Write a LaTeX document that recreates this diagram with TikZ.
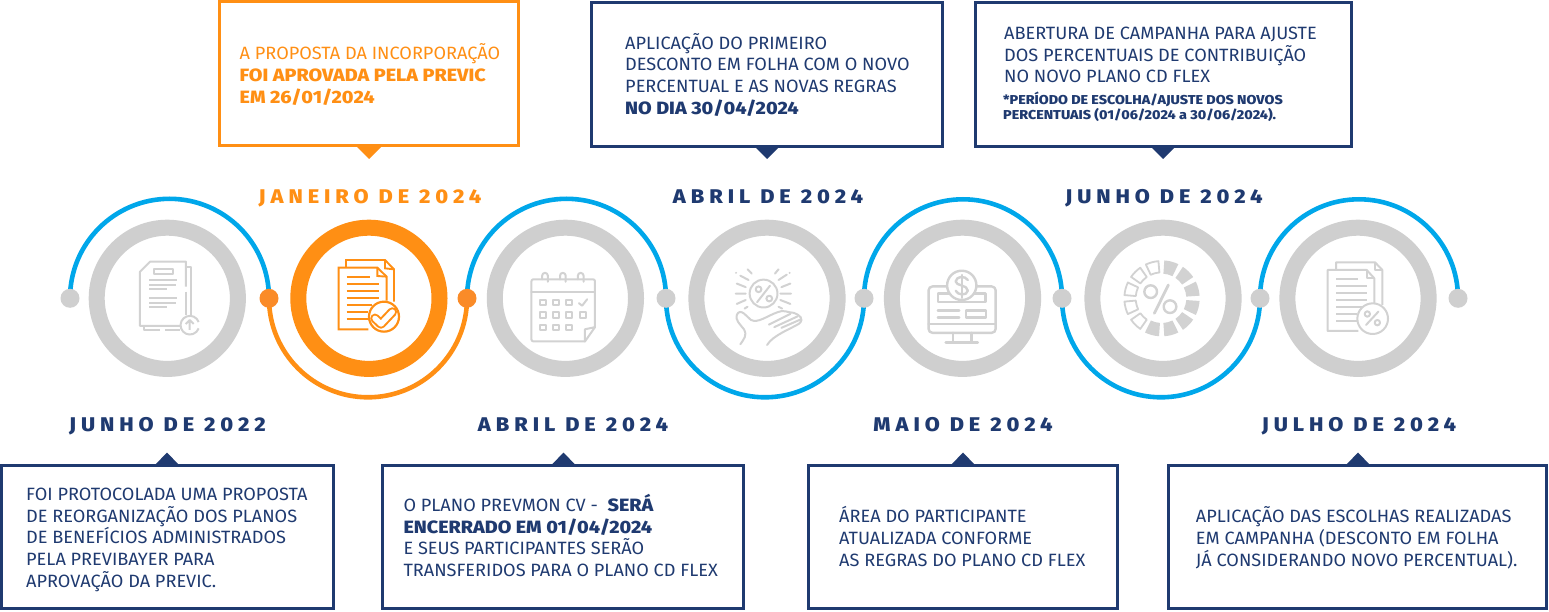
\documentclass[tikz,border=0pt]{standalone}
\usepackage{fontspec}
\setmainfont{Fira Sans}[UprightFeatures={FakeStretch=1.02},BoldFont={Fira Sans ExtraBold},BoldFeatures={FakeStretch=1.11}]
\definecolor{navy}{HTML}{1F3A70}
\definecolor{orng}{HTML}{FF8F14}
\definecolor{sky}{HTML}{00A7EA}
\definecolor{ringg}{HTML}{CFCFCF}
\definecolor{icong}{HTML}{D2D2D2}
\definecolor{dotor}{HTML}{FA8B28}
\newfontfamily\datefont{Fira Sans ExtraBold}[LetterSpace=25,FakeStretch=1.1]
\tikzset{
  navybox/.style={draw=navy,line width=3pt,fill=white,inner sep=0pt},
  orangebox/.style={draw=orng,line width=3pt,fill=white,inner sep=0pt},
  ring/.style={circle,draw=ringg,line width=16pt,minimum size=141.2pt,inner sep=0pt},
  dotg/.style={circle,fill=ringg,minimum size=19pt,inner sep=0pt},
  doto/.style={circle,fill=dotor,minimum size=19pt,inner sep=0pt},
  skyarc/.style={draw=sky,line width=4.6pt},
  orarc/.style={draw=orng,line width=4.6pt},
  body/.style={anchor=base west,inner sep=0pt,align=left,text=navy,font=\fontsize{17.8}{21.75}\selectfont},
  datel/.style={anchor=base,inner sep=0pt,text=navy,font=\datefont\fontsize{19.8}{22}\selectfont},
  ic/.style={draw=icong,line width=2pt,line cap=round,line join=round},
  ico/.style={draw=orng,line width=1.9pt,line join=miter}
}
\begin{document}
\begin{tikzpicture}[x=1pt,y=-1pt]
\useasboundingbox (0,0) rectangle (1549,612);
\fill[white] (0,0) rectangle (1549,612);
\coordinate (p0) at (70,298.3);
\coordinate (p1) at (269,298.3);
\coordinate (p2) at (467,298.3);
\coordinate (p3) at (666,298.3);
\coordinate (p4) at (864,298.3);
\coordinate (p5) at (1062,298.3);
\coordinate (p6) at (1260,298.3);
\coordinate (p7) at (1458,298.3);
\draw[skyarc] (p0) arc[start angle=180,end angle=360,radius=99.5];
\draw[orarc] (p1) arc[start angle=180,end angle=0,radius=99];
\draw[skyarc] (p2) arc[start angle=180,end angle=360,radius=99.5];
\draw[skyarc] (p3) arc[start angle=180,end angle=0,radius=99];
\draw[skyarc] (p4) arc[start angle=180,end angle=360,radius=99];
\draw[skyarc] (p5) arc[start angle=180,end angle=0,radius=99];
\draw[skyarc] (p6) arc[start angle=180,end angle=360,radius=99];
\node[dotg] (d0) at (p0) {};
\node[doto] (d1) at (p1) {};
\node[doto] (d2) at (p2) {};
\node[dotg] (d3) at (p3) {};
\node[dotg] (d4) at (p4) {};
\node[dotg] (d5) at (p5) {};
\node[dotg] (d6) at (p6) {};
\node[dotg] (d7) at (p7) {};
\node[ring] (r1) at (167.3,298.3) {};
\node[ring,draw=orng] (r2) at (368.9,298.3) {};
\node[ring] (r3) at (565.4,298.3) {};
\node[ring] (r4) at (767,298.3) {};
\node[ring] (r5) at (962.5,298.3) {};
\node[ring] (r6) at (1163,298.3) {};
\node[ring] (r7) at (1358,298.3) {};
% icon 1
\begin{scope}[shift={(0,180)},scale=1/3,ic,line cap=butt]
\draw (540,438)--(420,438)--(420,275)--(450,245)--(558,245)--(558,320);
\draw (558,335)--(558,405);
\draw (560,260)--(572,260)--(572,408);
\draw (433,438)--(433,450)--(480,450) (495,450)--(540,450);
\draw (461,266) rectangle (518,283);
\draw (448,300)--(530,300) (448,314)--(528,314) (448,328)--(502,328);
\draw (448,355)--(530,355) (448,368)--(528,368) (448,382)--(502,382);
\draw (596,426) arc[start angle=-20,end angle=-340,radius=28];
\draw (569,450)--(569,420) (557,432)--(569,420)--(581,432);
\end{scope}
% icon 2
\begin{scope}[shift={(0,180)},scale=1/3,ico]
\draw (1038,263)--(1038,240)--(1155,240)--(1182,268)--(1182,365);
\draw (1155,240)--(1155,265)--(1182,268);
\draw (1105,448)--(1016,448)--(1016,263)--(1132,263)--(1160,290)--(1160,362);
\draw (1132,263)--(1132,288)--(1160,290);
\draw (1040,292)--(1110,292) (1040,313)--(1137,313) (1040,334)--(1137,334) (1040,355)--(1137,355) (1040,376)--(1115,376) (1040,397)--(1105,397) (1040,418)--(1105,418);
\draw[fill=white,line width=2.2pt] (1152,410) circle[radius=45];
\draw[line width=9.5pt,line join=round,line cap=round] (1125,415)--(1143,432)--(1177,396);
\draw[white,line width=5.4pt,line join=round,line cap=round] (1125,415)--(1143,432)--(1177,396);
\end{scope}
% icon 3
\begin{scope}[shift={(460,180)},scale=1/2.8,ic]
\draw[rounded corners=2pt] (350,452)--(200,452)--(200,278)--(378,278)--(378,412);
\draw (378,412)--(350,452)--(350,418)--(378,412);
\draw (200,313)--(378,313);
\foreach \x in {238,288,338}{
 \draw (\x-8,278)--(\x-8,268) arc[start angle=180,end angle=360,radius=8]--(\x+8,285);
}
\foreach \x in {233,269,306}{\draw (\x-8,335) rectangle (\x+8,350);\draw (\x-8,371) rectangle (\x+8,386);\draw (\x-8,406) rectangle (\x+8,421);}
\draw (336,371) rectangle (352,386);
\draw (333,345)--(342,352)--(356,334);
\end{scope}
% icon 4
\begin{scope}[shift={(460,180)},scale=1/2.8,ic]
\draw (850,318) circle[radius=39];
\draw (832,342)--(868,296);
\draw (836,306) circle[radius=8] (866,332) circle[radius=8];
\draw (772,318)--(800,318) (775,290)--(800,300) (785,268)--(808,280) (805,250)--(817,262) (775,347)--(800,336) (797,360)--(805,355);
\draw (897,318)--(927,318) (900,300)--(925,290) (892,280)--(915,265) (882,262)--(892,250) (897,336)--(925,347) (892,355)--(902,360);
\fill[icong] (773,260) circle[radius=3] (923,260) circle[radius=3];
\draw (785,460) .. controls (795,445) and (805,435) .. (795,418) .. controls (785,405) and (770,392) .. (775,378) .. controls (785,355) and (805,385) .. (815,392) .. controls (835,402) and (860,380) .. (890,370) .. controls (905,362) and (920,372) .. (935,372) .. controls (950,378) and (965,388) .. (950,402) .. controls (930,415) and (875,435) .. (860,462);
\draw (865,405)--(925,375) (880,412)--(945,382) (900,414)--(955,390);
\end{scope}
% icon 5
\begin{scope}[shift={(460,180)},scale=1/2.8,ic,line width=2.4pt]
\draw[rounded corners=4pt] (1312,298) rectangle (1500,428);
\draw (1312,403)--(1500,403);
\draw (1338,318) rectangle (1472,342);
\draw (1338,365)--(1398,365) (1338,385)--(1398,385);
\draw (1417,365) rectangle (1473,385);
\draw[fill=white] (1405,295) circle[radius=41];
\draw (1422,280) .. controls (1415,268) and (1390,268) .. (1388,284) .. controls (1388,297) and (1422,293) .. (1422,310) .. controls (1420,325) and (1393,323) .. (1388,310);
\draw (1405,266)--(1405,330);
\draw (1380,428)--(1380,453) (1432,428)--(1432,453);
\draw (1360,455)--(1450,455);
\end{scope}
% icon 6
\begin{scope}[shift={(1040,200)},scale=1/3]
\begin{scope}[shift={(365,295)}]
\foreach \a in {-75,-45,-15,15,45,75,105}{
 \fill[icong] ({\a-11}:114) arc[start angle={\a-11},end angle={\a+11},radius=114] -- ({\a+11}:74) arc[start angle={\a+11},end angle={\a-11},radius=74] -- cycle;
}
\foreach \a in {135,165,195,225,255}{
 \draw[icong,line width=1.8pt,line join=round] ({\a-10}:112) arc[start angle={\a-10},end angle={\a+10},radius=112] -- ({\a+10}:78) arc[start angle={\a+10},end angle={\a-10},radius=78] -- cycle;
}
\end{scope}
\draw[ic,line width=2.4pt] (332,275) circle[radius=19] (390,320) circle[radius=19];
\draw[ic,line width=2.8pt] (343,340)--(385,255);
\end{scope}
% icon 7
\begin{scope}[shift={(1040,200)},scale=1/3,ic,line cap=butt]
\draw (888,210)--(888,187)--(1005,187)--(1027,210)--(1027,315);
\draw (1005,187)--(1005,210)--(1027,210);
\draw (955,393)--(863,393)--(863,210)--(980,210)--(1003,235)--(1003,320);
\draw (980,210)--(980,235)--(1003,235);
\draw (888,238)--(955,238) (888,258)--(980,258) (888,280)--(980,280) (888,300)--(980,300) (888,320)--(975,320) (888,342)--(950,342) (888,362)--(950,362);
\draw[fill=white] (998,356) circle[radius=46];
\draw (982,342) circle[radius=8] (1012,368) circle[radius=8];
\draw[line cap=round] (978,375)--(1015,335);
\end{scope}
% boxes
\node[orangebox,minimum width=299.4pt,minimum height=144.7pt] (b1) at (369,73.6) {};
\node[navybox,minimum width=351.2pt,minimum height=144.2pt] (b2) at (767,74.6) {};
\node[navybox,minimum width=376.4pt,minimum height=143.5pt] (b3) at (1163.5,74.7) {};
\node[navybox,minimum width=331.8pt,minimum height=143pt] (b4) at (167.4,536.8) {};
\node[navybox,minimum width=361.7pt,minimum height=143pt] (b5) at (563.1,536.8) {};
\node[navybox,minimum width=309.3pt,minimum height=143pt] (b6) at (962.7,536.8) {};
\node[navybox,minimum width=377.7pt,minimum height=143pt] (b7) at (1357.8,536.8) {};
% pointers
\fill[orng] (357,147)--(381,147)--(369,159)--cycle;
\fill[navy] (755,147)--(779,147)--(767,159)--cycle;
\fill[navy] (1151,147)--(1175,147)--(1163,159)--cycle;
\fill[navy] (155,465)--(179,465)--(167,452.5)--cycle;
\fill[navy] (551.5,465)--(575.5,465)--(563.5,452.5)--cycle;
\fill[navy] (951,465)--(975,465)--(963,452.5)--cycle;
\fill[navy] (1346,465)--(1370,465)--(1358,452.5)--cycle;
% date labels
\node[datel,text=orng] (t1) at (370,203.8) {JANEIRO DE 2024};
\node[datel] (t2) at (768,203.8) {ABRIL DE 2024};
\node[datel] (t3) at (1164,203.8) {JUNHO DE 2024};
\node[datel] (t4) at (167.5,431) {JUNHO DE 2022};
\node[datel] (t5) at (573,431) {ABRIL DE 2024};
\node[datel] (t6) at (963,431) {MAIO DE 2024};
\node[datel] (t7) at (1359,431) {JULHO DE 2024};
% texts
\node[body,text=orng] (x1) at (239.5,103.3) {A PROPOSTA DA INCORPORAÇÃO\\\textbf{FOI APROVADA PELA PREVIC}\\\textbf{EM 26/01/2024}};
\node[body] (x2) at (625,114.3) {APLICAÇÃO DO PRIMEIRO\\DESCONTO EM FOLHA COM O NOVO\\PERCENTUAL E AS NOVAS REGRAS\\\textbf{NO DIA 30/04/2024}};
\node[body] (x3) at (1004,83) {ABERTURA DE CAMPANHA PARA AJUSTE\\DOS PERCENTUAIS DE CONTRIBUIÇÃO\\NO NOVO PLANO CD FLEX};
\node[body,font=\fontsize{12.9}{15.7}\selectfont\bfseries] (x3b) at (1003,120) {*PERÍODO DE ESCOLHA/AJUSTE DOS NOVOS\\PERCENTUAIS (01/06/2024 a 30/06/2024).};
\node[body] (x4) at (26,587.3) {FOI PROTOCOLADA UMA PROPOSTA\\DE REORGANIZAÇÃO DOS PLANOS\\DE BENEFÍCIOS ADMINISTRADOS\\PELA PREVIBAYER PARA\\APROVAÇÃO DA PREVIC.};
\node[body] (x5) at (403.3,576.7) {O PLANO PREVMON CV -\ \ \textbf{SERÁ}\\\textbf{ENCERRADO EM 01/04/2024}\\E SEUS PARTICIPANTES SERÃO\\TRANSFERIDOS PARA O PLANO CD FLEX};
\node[body] (x6) at (839,566) {ÁREA DO PARTICIPANTE\\ATUALIZADA CONFORME\\AS REGRAS DO PLANO CD FLEX};
\node[body] (x7) at (1195.7,566) {APLICAÇÃO DAS ESCOLHAS REALIZADAS\\EM CAMPANHA (DESCONTO EM FOLHA\\JÁ CONSIDERANDO NOVO PERCENTUAL).};
\end{tikzpicture}
\end{document}
